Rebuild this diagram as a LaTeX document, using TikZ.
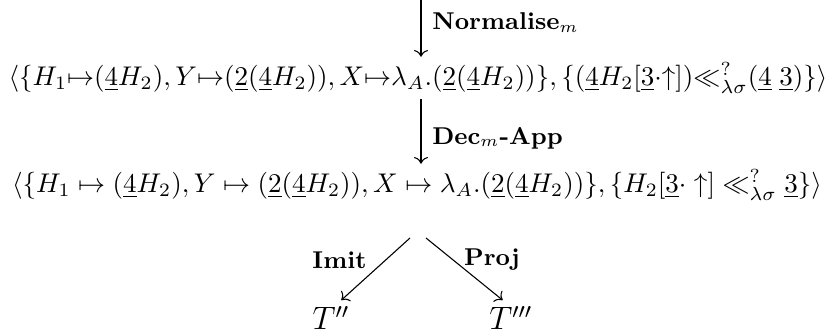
\documentclass[tikz,border=0pt]{standalone}
\usepackage{amsmath,amssymb}
\usetikzlibrary{positioning, arrows.meta, calc}

\tikzset{
  term/.style={inner sep=2pt},
  rule/.style={font=\small\bfseries, inner sep=3pt},
  step arrow/.style={->}
}
\newcommand{\ul}[1]{\underline{#1}}

\begin{document}
\begin{tikzpicture}[x=0.37pt, y=-0.37pt]
  \useasboundingbox (0,0) rectangle (836,336);
  \coordinate (top) at (421,0);
  \node[term] (row1) at (418,78) {$\langle\{H_1{\mapsto}(\ul{4}H_2),Y{\mapsto}(\ul{2}(\ul{4}H_2)),X{\mapsto}\lambda_A.(\ul{2}(\ul{4}H_2))\},\{(\ul{4}H_2[\ul{3}{\cdot}{\uparrow}]){\ll^?_{\lambda\sigma}}(\ul{4}\;\ul{3})\}\rangle$};
  \node[term] (row2) at (417,185) {$\langle\{H_1\mapsto(\ul{4}H_2),Y\mapsto(\ul{2}(\ul{4}H_2)),X\mapsto\lambda_A.(\ul{2}(\ul{4}H_2))\},\{H_2[\ul{3}\cdot\uparrow]\ll^?_{\lambda\sigma}\ul{3}\}\rangle$};
  \coordinate (forkl) at (410,238);
  \coordinate (forkr) at (426,238);
  \node[term, font=\large] (imit) at (331,318) {$T''$};
  \node[term, font=\large] (proj) at (511,318) {$T'''$};

  \draw[step arrow] (top) -- (row1.north -| top) node[rule, pos=0.4, right, xshift=1pt] {Normalise$_m$};
  \draw[step arrow] (row1.south -| top) -- (row2.north -| top) node[rule, pos=0.6, right, xshift=1pt] {Dec$_m$-App};
  \draw[step arrow] (forkl) -- (imit.60) node[rule, pos=0.35, left, xshift=-4pt] {Imit};
  \draw[step arrow] (forkr) -- (proj.115) node[rule, pos=0.35, right, xshift=1pt] {Proj};
\end{tikzpicture}
\end{document}
